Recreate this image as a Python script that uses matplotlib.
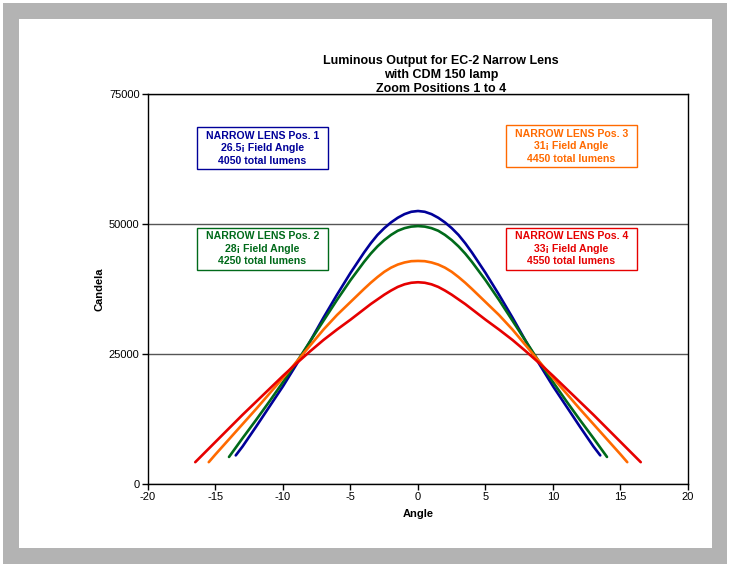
import numpy as np
import matplotlib.pyplot as plt
from matplotlib.patches import Rectangle

# Candela readings per zoom position (half profile, mirrored about 0 deg)
angles_1 = [-13.5, -13, -12, -11, -10, -9, -8, -7, -6, -5, -4, -3.5, -3, -2.5, -2,
            -1.5, -1, -0.5, 0]
cd_1 = [5500, 7200, 11000, 14900, 18800, 23000, 27400, 32000, 36400, 40600,
        44500, 46300, 47900, 49200, 50300, 51200, 51900, 52350, 52500]

angles_2 = [-14, -13, -12, -11, -10, -9, -8, -7, -6, -5, -4, -3.5, -3, -2.5, -2,
            -1.5, -1, -0.5, 0]
cd_2 = [5200, 8800, 12300, 15900, 19600, 23400, 27400, 31400, 35400, 39200,
        42700, 44300, 45700, 46900, 47900, 48700, 49200, 49500, 49600]

angles_3 = [-15.5, -15, -14, -13, -12, -11, -10, -9, -8, -7, -6, -5, -4, -3.5, -3,
            -2.5, -2, -1.5, -1, -0.5, 0]
cd_3 = [4200, 5700, 8600, 11500, 14400, 17400, 20400, 23500, 26600, 29700,
        32500, 35000, 37500, 38700, 39800, 40800, 41600, 42200, 42600, 42850, 42900]

angles_4 = [-16.5, -16, -15, -14, -13, -12, -11, -10, -9, -8, -7, -6, -5, -4, -3.5,
            -3, -2.5, -2, -1.5, -1, -0.5, 0]
cd_4 = [4200, 5500, 8100, 10700, 13300, 15800, 18300, 20800, 23200, 25500,
        27700, 29700, 31600, 33600, 34600, 35500, 36400, 37200, 37900, 38400,
        38700, 38800]

series_labels = [
    "NARROW LENS Pos. 1\n26.5¡ Field Angle\n4050 total lumens",
    "NARROW LENS Pos. 2\n28¡ Field Angle\n4250 total lumens",
    "NARROW LENS Pos. 3\n31¡ Field Angle\n4450 total lumens",
    "NARROW LENS Pos. 4\n33¡ Field Angle\n4550 total lumens",
]
colors = ["#000099", "#006a1a", "#ff6a00", "#e60000"]


def full_profile(a, v):
    a = np.array(a, dtype=float)
    v = np.array(v, dtype=float)
    return np.concatenate([a, -a[-2::-1]]), np.concatenate([v, v[-2::-1]])


plt.rcParams['font.family'] = ['Liberation Sans', 'DejaVu Sans']
plt.rcParams['axes.unicode_minus'] = False

fig = plt.figure(figsize=(7.3, 5.67), dpi=100)
fig.patch.set_facecolor("white")
W, H = 730.0, 567.0
# grey frame and white chart area
fig.patches.append(Rectangle((3 / W, 3 / H), 724 / W, 561 / H, transform=fig.transFigure,
                             facecolor="#b3b3b3", edgecolor="none", zorder=-3))
fig.patches.append(Rectangle((19 / W, 19 / H), 693 / W, 529 / H, transform=fig.transFigure,
                             facecolor="white", edgecolor="none", zorder=-2))

ax = fig.add_axes([148 / W, 1 - 484 / H, 540 / W, 390 / H])
ax.set_facecolor("white")

data = [(angles_1, cd_1), (angles_2, cd_2), (angles_3, cd_3), (angles_4, cd_4)]
for (a, v), c in zip(data, colors):
    x, y = full_profile(a, v)
    ax.plot(x, y, color=c, lw=1.9, solid_capstyle="round", solid_joinstyle="round", zorder=3)

ax.set_xlim(-20, 20)
ax.set_ylim(0, 75000)
ax.set_xticks(np.arange(-20, 21, 5))
ax.set_yticks([0, 25000, 50000, 75000])
ax.yaxis.grid(True, color="#555555", lw=1)
ax.set_axisbelow(True)
ax.tick_params(direction="out", length=4, width=1, labelsize=8, colors="black", pad=2)
for s in ax.spines.values():
    s.set_color("black")
    s.set_linewidth(1)

ax.set_xlabel("Angle", fontsize=8, fontweight="bold", labelpad=5)
ax.set_ylabel("Candela", fontsize=8, fontweight="bold", labelpad=3)

# annotation boxes (centre in axes fraction)
box_pos = [(0.212, 0.861), (0.212, 0.603), (0.784, 0.866), (0.784, 0.603)]
bw, bh = 131 / 540, 42 / 390
for (cx, cy), label, c in zip(box_pos, series_labels, colors):
    ax.add_patch(Rectangle((cx - bw / 2, cy - bh / 2), bw, bh, transform=ax.transAxes,
                           facecolor="white", edgecolor=c, lw=1, zorder=4))
    ax.text(cx, cy, label, transform=ax.transAxes, ha="center", va="center",
            fontsize=7.6, fontweight="bold", color=c, linespacing=1.3, zorder=5)

fig.text(441 / W, 1 - 75 / H,
         "Luminous Output for EC-2 Narrow Lens\nwith CDM 150 lamp\nZoom Positions 1 to 4",
         ha="center", va="center", fontsize=9, fontweight="bold", linespacing=1.2)

fig.savefig("out.png", dpi=100)
